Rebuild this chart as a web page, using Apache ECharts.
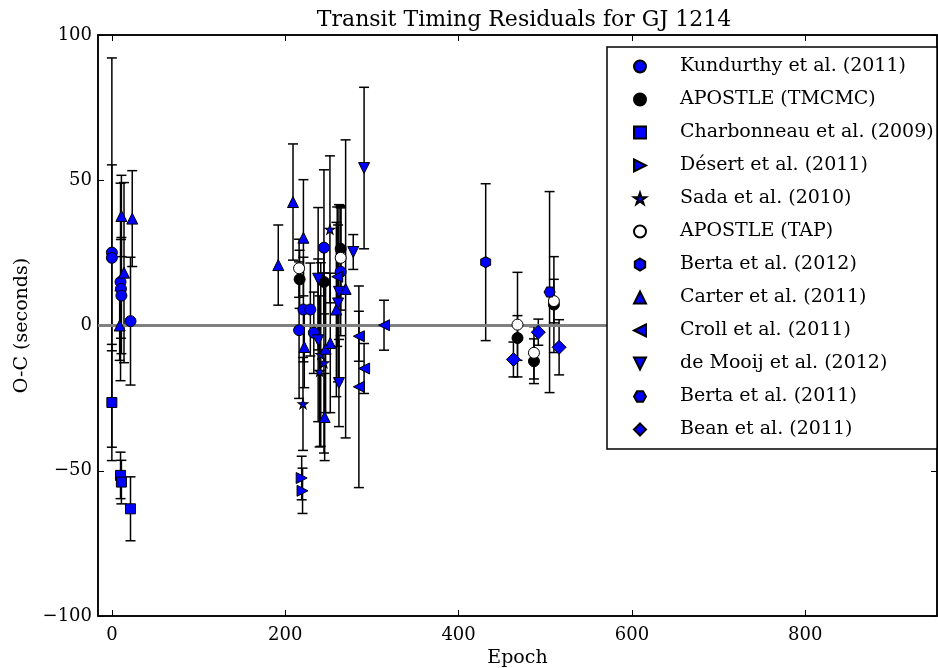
<!DOCTYPE html>
<html>
<head>
<meta charset="utf-8">
<script src="https://cdn.jsdelivr.net/npm/echarts@6/dist/echarts.min.js"></script>
<style>html,body{margin:0;padding:0;background:#fff}#c{width:938px;height:668px}</style>
</head>
<body>
<div id="c"></div>
<script>
// ---- data: [epoch, O-C (s), error (s)] ----
const kundurthy = [[0,25.1,67],[0,23.3,32],[10,15,34],[10.5,12.6,17],[11,10.3,20],[21.5,1.5,22],[216,-1.6,23.5],[221,5.5,18],[229,5.5,16],[233,-2.5,14],[244.7,26.8,26.8],[264,18.5,22]];
const apostleTMCMC = [[216.6,15.9,10],[244.7,15,11],[264,26.4,14.5],[468,-4.3,7.7],[487,-12.3,7.7],[510,7.2,16.5]];
const charbonneau = [[0,-26.5,20],[10,-51.6,8],[11,-53.9,7.5],[21.5,-63.1,11]];
const desert = [[219,-52.5,7.5],[220,-56.9,7.8]];
const sada = [[220.5,-27,16],[251.6,33.1,25.3],[241,-10,31.6],[244.7,-12.9,31],[239.7,-15.8,26]];
const apostleTAP = [[216,19.7,10],[264,23.3,18],[468,0.3,18],[487,-9.4,9],[510,8.4,7.5]];
const berta2012 = [[431.3,21.8,27]];
const carter = [[9,0,12],[11,37.7,14],[14,18.2,31],[23.5,36.8,16.5],[192,20.8,13.8],[209,42.5,20],[221,30.2,20],[222,-7.4,14],[246.6,-8,22],[252,-6,24],[245.5,-31.5,15],[259,5.5,30],[269.7,12.6,51.3]];
const croll = [[260,16.8,24],[285,-3.7,8.6],[291,-14.8,8.6],[285,-21.1,34.7],[314,0.1,8.6]];
const demooij = [[238,16.1,24.5],[262,11.6,30],[261,7.6,27],[238,-5.1,28],[262,-19.8,15],[278.5,25.3,6],[291,54.2,27.8]];
const berta2011 = [[505,11.5,34.6]];
const bean = [[463.3,-11.7,6],[492,-2.3,4.5],[516,-7.5,9.5]];

const xTicks = [0,200,400,600,800];
const yTicks = [-100,-50,0,50,100];
const xRange = [-16, 952];
const zeroLine = [[xRange[0],0],[xRange[1],0]];

// ---- styles ----
const BLUE = '#0000ff';
const STAR = 'path://M5,0L6.12,3.45L9.76,3.45L6.82,5.59L7.94,9.05L5,6.91L2.06,9.05L3.18,5.59L0.24,3.45L3.88,3.45Z';
const defs = [
  {name:'Kundurthy et al. (2011)', data:kundurthy, symbol:'circle', size:11, color:BLUE},
  {name:'APOSTLE (TMCMC)', data:apostleTMCMC, symbol:'circle', size:11, color:'#000'},
  {name:'Charbonneau et al. (2009)', data:charbonneau, symbol:'rect', size:10, color:BLUE},
  {name:'Désert et al. (2011)', data:desert, symbol:'path://M0,0L10,5L0,10Z', size:11, color:BLUE},
  {name:'Sada et al. (2010)', data:sada, symbol:STAR, size:[10,9.5], color:BLUE},
  {name:'APOSTLE (TAP)', data:apostleTAP, symbol:'circle', size:11, color:'#fff'},
  {name:'Berta et al. (2012)', data:berta2012, symbol:'path://M5,0L9.33,2.5L9.33,7.5L5,10L0.67,7.5L0.67,2.5Z', size:[10,11], color:BLUE},
  {name:'Carter et al. (2011)', data:carter, symbol:'path://M5,0L10,10L0,10Z', size:11, color:BLUE},
  {name:'Croll et al. (2011)', data:croll, symbol:'path://M10,0L0,5L10,10Z', size:11, color:BLUE},
  {name:'de Mooij et al. (2012)', data:demooij, symbol:'path://M0,0L10,0L5,10Z', size:11, color:BLUE},
  {name:'Berta et al. (2011)', data:berta2011, symbol:'path://M0,5L2.5,0.67L7.5,0.67L10,5L7.5,9.33L2.5,9.33Z', size:[11,10], color:BLUE},
  {name:'Bean et al. (2011)', data:bean, symbol:'diamond', size:14, color:BLUE}
];

function errRender(params, api) {
  const x = api.value(0), y = api.value(1), e = api.value(2);
  const t = api.coord([x, y + e]), b = api.coord([x, y - e]);
  const hw = 5, st = {stroke:'#000', lineWidth:1.5};
  return {type:'group', children:[
    {type:'line', shape:{x1:t[0], y1:t[1], x2:b[0], y2:b[1]}, style:st},
    {type:'line', shape:{x1:t[0]-hw, y1:t[1], x2:t[0]+hw, y2:t[1]}, style:st},
    {type:'line', shape:{x1:b[0]-hw, y1:b[1], x2:b[0]+hw, y2:b[1]}, style:st}
  ]};
}

const series = [{
  name:'zero', type:'line', data:zeroLine, symbol:'none', silent:true,
  lineStyle:{color:'#808080', width:3}, z:2
}];
defs.forEach((d, i) => {
  series.push({
    name:'err' + i, type:'custom', renderItem:errRender, data:d.data,
    encode:{x:0, y:1}, silent:true, z:2, clip:true
  });
  series.push({
    name:d.name, type:'scatter', data:d.data.map(p => [p[0], p[1]]),
    symbol:d.symbol, symbolSize:d.size, z:2,
    itemStyle:{color:d.color, borderColor:'#000', borderWidth:1, opacity:1}
  });
});

const FONT = 'DejaVu Serif';
const minus = v => String(v).replace('-', '\u2212');
const axisCommon = {
  axisLine:{show:true, onZero:false, lineStyle:{color:'#000', width:1.5}},
  splitLine:{show:false}
};

const option = {
  animation:false,
  backgroundColor:'#fff',
  title:{
    text:'Transit Timing Residuals for GJ 1214', left:519, top:4, textAlign:'center',
    textStyle:{fontFamily:FONT, fontWeight:'normal', fontSize:22, color:'#000'}
  },
  grid:{left:98, right:1, top:35, bottom:52, show:true, borderColor:'#000', borderWidth:1.5,
        backgroundColor:'transparent', outerBoundsMode:'none', containLabel:false},
  xAxis:[
    Object.assign({type:'value', min:xRange[0], max:xRange[1], position:'bottom',
      name:'Epoch', nameLocation:'middle', nameGap:33,
      nameTextStyle:{fontFamily:FONT, fontSize:19, color:'#000'},
      axisTick:{show:true, inside:true, length:6, customValues:xTicks, lineStyle:{color:'#000'}},
      axisLabel:{customValues:xTicks, fontFamily:FONT, fontSize:18, color:'#000', margin:10, formatter:minus}
    }, axisCommon),
    Object.assign({type:'value', min:xRange[0], max:xRange[1], position:'top',
      axisTick:{show:true, inside:true, length:6, customValues:xTicks, lineStyle:{color:'#000'}},
      axisLabel:{show:false}
    }, axisCommon)
  ],
  yAxis:[
    Object.assign({type:'value', min:yTicks[0], max:yTicks[yTicks.length-1], interval:50, position:'left',
      name:'O-C (seconds)', nameLocation:'middle', nameGap:66,
      nameTextStyle:{fontFamily:FONT, fontSize:19, color:'#000'},
      axisTick:{show:true, inside:true, length:6, lineStyle:{color:'#000'}},
      axisLabel:{fontFamily:FONT, fontSize:18, color:'#000', margin:6, formatter:minus}
    }, axisCommon),
    Object.assign({type:'value', min:yTicks[0], max:yTicks[yTicks.length-1], interval:50, position:'right',
      axisTick:{show:true, inside:true, length:6, lineStyle:{color:'#000'}},
      axisLabel:{show:false}
    }, axisCommon)
  ],
  legend:{
    orient:'vertical', left:607, top:47, z:20,
    padding:[10, 8, 14, 26], itemGap:14, itemWidth:12, itemHeight:12,
    data:defs.map(d => d.name),
    textStyle:{fontFamily:FONT, fontSize:19, color:'#000', padding:[0,0,0,29]},
    selectedMode:false
  },
  graphic:[{
    type:'rect', z:15, shape:{x:607, y:47, width:330, height:402},
    style:{fill:'#fff', stroke:'#000', lineWidth:1.5}, silent:true
  }],
  series:series
};

const chart = echarts.init(document.getElementById('c'), null, {renderer:'canvas'});
chart.setOption(option);
</script>
</body>
</html>
